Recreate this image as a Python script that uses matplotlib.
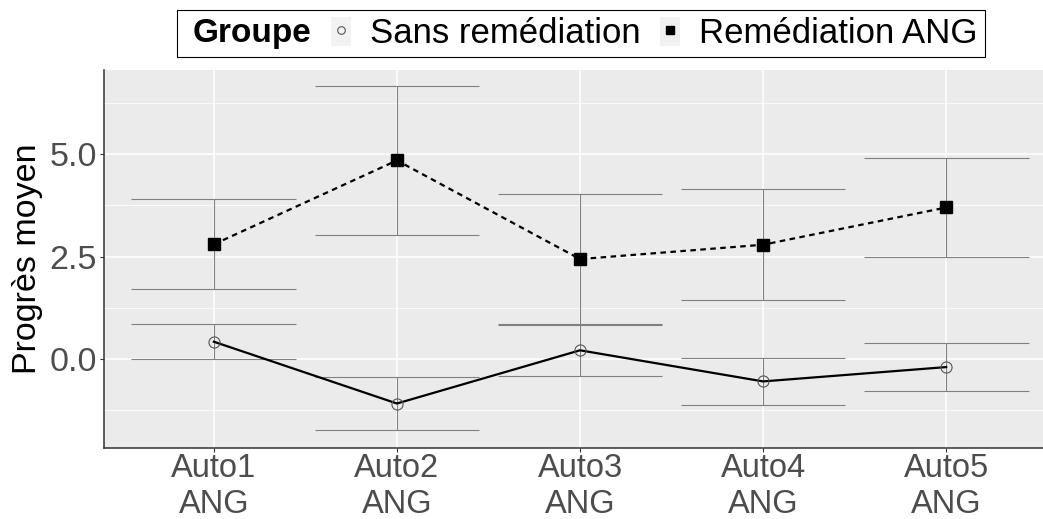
import matplotlib

matplotlib.use("Agg")
import matplotlib.pyplot as plt
from matplotlib.lines import Line2D
from matplotlib.patches import Patch
from matplotlib.legend_handler import HandlerTuple
from matplotlib.offsetbox import HPacker, DrawingArea
from matplotlib.ticker import MultipleLocator

plt.rcParams["font.family"] = ["Liberation Sans", "DejaVu Sans"]

categories = ["Auto1\nANG", "Auto2\nANG", "Auto3\nANG", "Auto4\nANG", "Auto5\nANG"]
sans_mean = [0.42, -1.09, 0.21, -0.55, -0.20]
sans_err = [0.43, 0.64, 0.62, 0.58, 0.59]
rem_mean = [2.80, 4.85, 2.44, 2.79, 3.70]
rem_err = [1.10, 1.82, 1.59, 1.36, 1.20]

BG = "#EBEBEB"
ERR = "#808080"
TXT = "#4D4D4D"

W, H = 1043, 519
fig = plt.figure(figsize=(W / 100, H / 100), dpi=100)
ax = fig.add_axes([104 / W, (H - 447.7) / H, (1056 - 104) / W, (447.7 - 70) / H])
ax.set_facecolor(BG)

x = list(range(1, len(categories) + 1))
half = 0.45

# barres d'erreur (moyenne +/- erreur), chapeaux en unités de données
for mean, err in ((sans_mean, sans_err), (rem_mean, rem_err)):
    lo = [m - e for m, e in zip(mean, err)]
    hi = [m + e for m, e in zip(mean, err)]
    ax.vlines(x, lo, hi, color=ERR, lw=0.8, zorder=2)
    ax.hlines(lo, [v - half for v in x], [v + half for v in x], color=ERR, lw=0.8, zorder=2)
    ax.hlines(hi, [v - half for v in x], [v + half for v in x], color=ERR, lw=0.8, zorder=2)

ax.plot(x, sans_mean, color="black", lw=1.6, zorder=3)
ax.plot(x, rem_mean, color="black", lw=1.6, ls=(0, (2.5, 2)), zorder=3)
ax.plot(x, sans_mean, ls="", marker="o", ms=8, mfc="none", mec="#555555", mew=0.8, zorder=4)
ax.plot(x, rem_mean, ls="", marker="s", ms=8.5, mfc="black", mec="black", zorder=4)

ax.set_xlim(0.4, 5.6)
ax.set_ylim(-2.17, 7.06)
ax.set_xticks(x)
ax.set_xticklabels(categories)
ax.yaxis.set_major_locator(MultipleLocator(2.5))
ax.yaxis.set_minor_locator(MultipleLocator(1.25))
ax.set_yticks([0, 2.5, 5.0])
ax.set_yticklabels(["0.0", "2.5", "5.0"])

ax.grid(which="major", color="white", lw=1.1, zorder=0)
ax.grid(which="minor", axis="y", color="white", lw=0.55, zorder=0)
ax.set_axisbelow(True)
ax.tick_params(which="major", length=3, width=0.8, color="#333333", pad=2,
               labelcolor=TXT)
ax.tick_params(axis="x", which="major", labelsize=23.5, pad=1)
ax.tick_params(axis="y", which="major", labelsize=24.5)
ax.tick_params(which="minor", length=0)
for t in ax.get_xticklabels():
    t.set_linespacing(1.2)

for s in ("top", "right"):
    ax.spines[s].set_visible(False)
for s in ("left", "bottom"):
    ax.spines[s].set_color("#333333")
    ax.spines[s].set_linewidth(1.1)

ax.set_ylabel("Progrès moyen", fontsize=24.5, color="black")
ax.yaxis.set_label_coords(-0.064, 0.5)

key_bg = Patch(fc="#F2F2F2", ec="none")
handles = [
    (key_bg, Line2D([], [], ls="", marker="o", ms=5.5, mfc="none", mec="#555555", mew=0.8)),
    (key_bg, Line2D([], [], ls="", marker="s", ms=6, mfc="black", mec="black")),
]
leg = fig.legend(handles=handles, labels=["Sans remédiation", "Remédiation ANG"],
                 handler_map={tuple: HandlerTuple(ndivide=1)},
                 title="Groupe", title_fontproperties={"weight": "bold", "size": 24},
                 ncol=2, loc="center", bbox_to_anchor=(581 / W, 1 - 33.5 / H),
                 fontsize=25, frameon=True, fancybox=False, edgecolor="black",
                 framealpha=1, handlelength=0.58, handleheight=0.95,
                 handletextpad=0.55, columnspacing=0.55, borderpad=0.2,
                 borderaxespad=0)
leg.get_frame().set_linewidth(0.8)
# titre à gauche des clés, comme dans ggplot
fs = leg._fontsize
leg._legend_box = HPacker(pad=leg.borderpad * fs, sep=0, align="center",
                          children=[DrawingArea(5.8, 1), leg._legend_title_box,
                                    DrawingArea(14.4, 1), leg._legend_handle_box])
leg._legend_box.set_figure(fig)
leg._legend_box.set_offset(leg._findoffset)

fig.savefig("out.png", dpi=100)
